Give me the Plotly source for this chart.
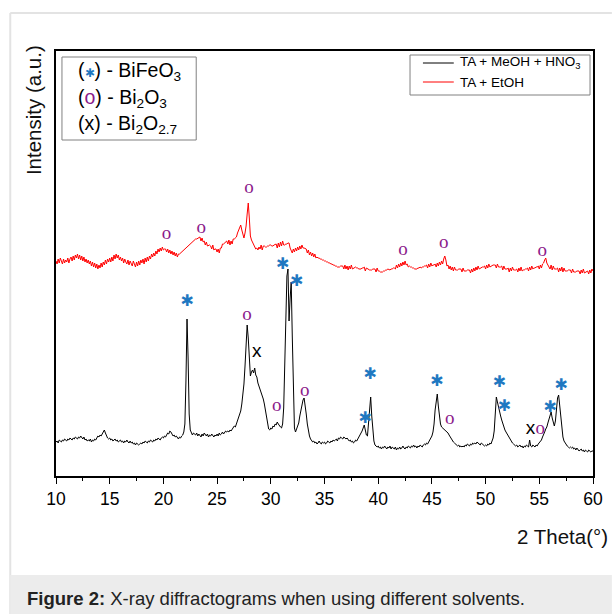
import numpy as np
import plotly.graph_objects as go

# ---------------- data ----------------
two_theta = np.round(10 + 0.1 * np.arange(501), 1)

# TA + MeOH + HNO3 (black), rows of 1 degree (10.0 .. 10.9, 11.0 .. )
ta_meoh_hno3_rows = [
    [34, 35, 33, 36, 35, 34, 36, 35, 37, 36],
    [35, 37, 36, 38, 37, 36, 38, 37, 39, 38],
    [37, 39, 38, 40, 38, 37, 39, 36, 37, 35],
    [36, 35, 37, 34, 36, 35, 37, 36, 38, 40],
    [39, 41, 40, 42, 44, 46, 43, 40, 38, 37],
    [38, 36, 37, 35, 36, 37, 35, 36, 34, 35],
    [36, 34, 35, 33, 35, 34, 36, 34, 33, 35],
    [33, 34, 32, 33, 31, 33, 32, 31, 32, 33],
    [32, 34, 33, 35, 34, 33, 35, 34, 36, 35],
    [34, 36, 35, 37, 36, 38, 37, 36, 38, 39],
    [38, 40, 39, 41, 43, 42, 45, 44, 41, 40],
    [41, 39, 40, 38, 37, 39, 38, 40, 41, 44],
    [52, 95, 157, 118, 62, 46, 43, 41, 43, 42],
    [41, 43, 40, 42, 41, 39, 42, 40, 43, 41],
    [40, 42, 39, 41, 40, 42, 40, 39, 41, 40],
    [42, 40, 43, 41, 42, 44, 42, 43, 45, 44],
    [45, 44, 46, 45, 47, 48, 50, 49, 52, 54],
    [57, 60, 65, 72, 80, 92, 110, 132, 151, 138],
    [112, 100, 104, 106, 103, 108, 101, 99, 93, 90],
    [88, 84, 80, 77, 72, 66, 58, 52, 47, 46],
    [48, 47, 50, 49, 52, 51, 54, 52, 50, 49],
    [48, 52, 68, 105, 160, 200, 207, 155, 178, 194],
    [140, 72, 48, 44, 47, 50, 53, 60, 66, 72],
    [76, 78, 72, 62, 52, 44, 40, 37, 35, 34],
    [35, 33, 34, 32, 33, 35, 33, 32, 34, 33],
    [34, 32, 33, 35, 34, 33, 35, 34, 36, 35],
    [36, 37, 35, 38, 37, 39, 38, 37, 39, 38],
    [37, 38, 36, 35, 36, 34, 35, 33, 34, 36],
    [35, 37, 38, 40, 42, 45, 48, 51, 46, 41],
    [40, 52, 68, 79, 60, 42, 35, 31, 30, 29],
    [30, 28, 29, 27, 29, 28, 30, 28, 27, 29],
    [28, 30, 27, 29, 28, 27, 29, 26, 28, 27],
    [29, 27, 28, 30, 28, 27, 29, 28, 30, 29],
    [28, 30, 29, 31, 29, 30, 28, 30, 29, 31],
    [30, 29, 31, 32, 31, 33, 32, 34, 36, 38],
    [40, 44, 52, 66, 78, 82, 70, 58, 52, 49],
    [48, 47, 47, 46, 45, 43, 41, 39, 37, 35],
    [34, 33, 32, 31, 30, 31, 29, 30, 29, 30],
    [29, 31, 30, 32, 31, 30, 32, 31, 33, 32],
    [33, 32, 34, 33, 32, 31, 33, 32, 31, 30],
    [31, 30, 32, 31, 33, 32, 35, 38, 45, 58],
    [79, 74, 68, 64, 60, 56, 52, 49, 46, 44],
    [42, 40, 38, 36, 35, 33, 32, 31, 30, 31],
    [29, 30, 31, 29, 30, 28, 30, 29, 31, 30],
    [29, 36, 30, 29, 31, 30, 29, 31, 30, 32],
    [33, 34, 36, 39, 41, 44, 47, 49, 53, 57],
    [60, 64, 58, 52, 50, 55, 68, 78, 81, 70],
    [55, 45, 39, 35, 33, 31, 30, 29, 28, 29],
    [28, 29, 27, 28, 26, 28, 27, 25, 26, 27],
    [25, 26, 24, 26, 25, 24, 26, 25, 24, 25],
    [25],
]
ta_meoh_hno3 = [v for row in ta_meoh_hno3_rows for v in row]

# TA + EtOH (red)
ta_etoh_rows = [
    [215, 212, 217, 213, 218, 214, 212, 217, 213, 216],
    [214, 218, 213, 217, 219, 215, 220, 216, 221, 218],
    [222, 217, 221, 216, 220, 215, 219, 214, 217, 213],
    [216, 212, 215, 210, 214, 209, 213, 208, 212, 207],
    [211, 208, 213, 209, 214, 211, 216, 212, 217, 214],
    [218, 214, 219, 215, 221, 217, 222, 218, 221, 216],
    [219, 215, 218, 213, 217, 214, 212, 216, 211, 215],
    [212, 210, 215, 211, 209, 214, 210, 215, 211, 216],
    [213, 217, 212, 218, 214, 219, 215, 220, 217, 222],
    [219, 223, 220, 225, 222, 227, 224, 228, 225, 229],
    [226, 227, 227, 224, 227, 223, 226, 222, 225, 221],
    [224, 220, 223, 219, 222, 222, 223, 224, 225, 226],
    [227, 228, 229, 230, 231, 232, 233, 234, 235, 236],
    [237, 237, 238, 238, 239, 235, 238, 234, 235, 231],
    [234, 230, 231, 231, 230, 227, 231, 226, 227, 227],
    [224, 227, 223, 228, 228, 232, 232, 233, 234, 235],
    [232, 236, 231, 235, 232, 237, 237, 238, 239, 243],
    [246, 249, 251, 246, 241, 238, 243, 250, 262, 273],
    [258, 240, 236, 234, 231, 229, 227, 228, 226, 229],
    [227, 231, 226, 230, 230, 229, 229, 230, 230, 231],
    [231, 230, 230, 231, 232, 232, 228, 233, 229, 234],
    [230, 235, 231, 231, 232, 232, 233, 233, 228, 225],
    [223, 227, 224, 228, 225, 229, 226, 230, 227, 231],
    [228, 228, 227, 227, 223, 226, 221, 224, 220, 223],
    [219, 222, 218, 219, 218, 218, 217, 217, 216, 216],
    [215, 215, 214, 214, 213, 213, 212, 212, 211, 211],
    [210, 210, 209, 209, 209, 210, 210, 210, 207, 211],
    [207, 210, 206, 210, 207, 211, 207, 208, 208, 209],
    [208, 208, 207, 207, 207, 208, 208, 209, 205, 208],
    [207, 207, 206, 206, 206, 207, 207, 207, 204, 208],
    [205, 205, 204, 204, 204, 205, 205, 206, 206, 207],
    [206, 206, 207, 207, 208, 208, 207, 211, 208, 212],
    [209, 213, 210, 214, 211, 215, 211, 212, 209, 210],
    [209, 209, 208, 208, 207, 207, 207, 208, 208, 209],
    [208, 209, 209, 210, 210, 211, 208, 212, 209, 213],
    [210, 211, 211, 212, 209, 213, 210, 214, 211, 215],
    [212, 217, 220, 216, 210, 211, 207, 210, 206, 209],
    [205, 209, 206, 206, 206, 207, 207, 207, 204, 208],
    [205, 205, 205, 206, 206, 206, 203, 207, 204, 208],
    [205, 209, 206, 210, 207, 208, 208, 209, 209, 210],
    [207, 211, 208, 212, 209, 210, 210, 211, 211, 211],
    [208, 212, 209, 209, 209, 210, 206, 210, 207, 207],
    [207, 208, 204, 208, 205, 209, 206, 206, 206, 207],
    [204, 208, 205, 209, 205, 206, 206, 207, 207, 208],
    [205, 209, 206, 210, 207, 208, 208, 209, 209, 210],
    [207, 211, 208, 212, 213, 216, 218, 213, 210, 209],
    [207, 211, 206, 210, 207, 207, 207, 208, 204, 208],
    [205, 209, 204, 208, 205, 205, 205, 206, 206, 206],
    [203, 207, 204, 204, 204, 205, 205, 205, 202, 206],
    [203, 207, 203, 204, 204, 205, 202, 206, 203, 207],
    [205],
]
ta_etoh = [v for row in ta_etoh_rows for v in row]

# phase markers (2theta, intensity)
bifeo3_x = [22.22, 31.11, 32.41, 38.80, 39.26, 45.46, 51.30, 51.76, 56.02, 57.04]
bifeo3_y = [174, 211, 194, 57, 101, 94, 93, 69, 68, 90]
bi2o3_x = [20.28, 23.52, 27.96, 42.31, 46.11, 55.28, 27.78, 30.56, 33.15, 46.67, 55.09]
bi2o3_y = [242, 248, 288, 226, 233, 225, 161, 70, 85, 57, 47]
bi2o27_x = [28.70, 54.17]
bi2o27_y = [124, 47]

x_ticks = [10, 15, 20, 25, 30, 35, 40, 45, 50, 55, 60]

# ---------------- layout helpers (pixel -> paper) ----------------
L, R, T, B = 56, 596, 51, 476
W, H = 615, 614


def px(x):
    return (x - L) / (R - L)


def py(y):
    return (B - y) / (B - T)


BLUE = "#1f78c1"
PURPLE = "#8b1a8b"
FONT = "Liberation Sans, Arial, sans-serif"

fig = go.Figure()
fig.add_trace(go.Scatter(x=two_theta, y=ta_meoh_hno3, mode="lines",
                         line=dict(color="black", width=1), name="TA + MeOH + HNO3"))
fig.add_trace(go.Scatter(x=two_theta, y=ta_etoh, mode="lines",
                         line=dict(color="#ff0000", width=1), name="TA + EtOH"))
fig.add_trace(go.Scatter(x=bifeo3_x, y=bifeo3_y, mode="text", text=["✱"] * len(bifeo3_x),
                         textfont=dict(color=BLUE, size=16, family="DejaVu Sans")))
fig.add_trace(go.Scatter(x=bi2o3_x, y=bi2o3_y, mode="text", text=["o"] * len(bi2o3_x),
                         textfont=dict(color=PURPLE, size=19, family="Liberation Serif")))
fig.add_trace(go.Scatter(x=bi2o27_x, y=bi2o27_y, mode="text", text=["x"] * len(bi2o27_x),
                         textfont=dict(color="black", size=19, family=FONT)))

shapes = [
    # outer page frame
    dict(type="line", xref="paper", yref="paper", x0=px(10), x1=px(615), y0=py(13), y1=py(13),
         line=dict(color="#e3e3e3", width=2), layer="below"),
    dict(type="line", xref="paper", yref="paper", x0=px(10), x1=px(10), y0=py(13), y1=py(614),
         line=dict(color="#e3e3e3", width=2), layer="below"),
    dict(type="rect", xref="paper", yref="paper", x0=px(10), x1=px(615), y0=py(575), y1=py(614),
         fillcolor="#ececec", line=dict(width=0), layer="below"),
    # phase legend box
    dict(type="rect", xref="paper", yref="paper", x0=px(62), x1=px(197), y0=py(140), y1=py(57),
         line=dict(color="#808080", width=1)),
    # series legend box
    dict(type="rect", xref="paper", yref="paper", x0=px(412), x1=px(593), y0=py(95), y1=py(55),
         line=dict(color="#808080", width=1)),
    dict(type="line", xref="paper", yref="paper", x0=px(425), x1=px(456), y0=py(63), y1=py(63),
         line=dict(color="black", width=1)),
    dict(type="line", xref="paper", yref="paper", x0=px(425), x1=px(456), y0=py(82), y1=py(82),
         line=dict(color="#ff0000", width=1)),
]

ann = [
    dict(text="Intensity (a.u.)", x=px(34), y=py(110), textangle=-90,
         font=dict(size=20.5, color="#111", family=FONT)),
    dict(text="2 Theta(°)", x=px(613), y=py(536), xanchor="right",
         font=dict(size=20.5, color="#111", family=FONT)),
    dict(text="<b>Figure 2:</b> X-ray diffractograms when using different solvents.",
         x=px(25), y=py(598), xanchor="left", font=dict(size=18.5, color="#222", family=FONT)),
    dict(text=f"(<span style='color:{BLUE};font-size:12px'>✱</span>) - BiFeO<sub>3</sub>",
         x=px(76), y=py(71), xanchor="left", font=dict(size=19.5, color="black", family=FONT)),
    dict(text=f"(<span style='color:{PURPLE}'>o</span>) - Bi<sub>2</sub>O<sub>3</sub>",
         x=px(76), y=py(98), xanchor="left", font=dict(size=19.5, color="black", family=FONT)),
    dict(text="(x) - Bi<sub>2</sub>O<sub>2.7</sub>",
         x=px(76), y=py(125), xanchor="left", font=dict(size=19.5, color="black", family=FONT)),
    dict(text="TA + MeOH + HNO<sub>3</sub>", x=px(460), y=py(63), xanchor="left",
         font=dict(size=13.5, color="black", family=FONT)),
    dict(text="TA + EtOH", x=px(460), y=py(82), xanchor="left",
         font=dict(size=13.5, color="black", family=FONT)),
]
for a in ann:
    a.update(xref="paper", yref="paper", showarrow=False)
    a.setdefault("xanchor", "center")
    a.setdefault("yanchor", "middle")

fig.update_layout(
    width=W, height=614, autosize=False,
    margin=dict(l=L, r=W - R, t=T, b=H - B, pad=0),
    paper_bgcolor="white", plot_bgcolor="white",
    showlegend=False,
    shapes=shapes, annotations=ann,
    font=dict(family=FONT, color="black"),
)
fig.update_xaxes(range=[10, 60], tickvals=x_ticks, ticks="outside", ticklen=6, tickwidth=1.2,
                 tickcolor="black", showline=True, linecolor="black", linewidth=1.5, mirror=True,
                 showgrid=False, zeroline=False, tickfont=dict(size=17.5, color="black", family=FONT),
                 minor=dict(dtick=2.5, tick0=12.5, ticks="outside", ticklen=3.5, tickwidth=1.2,
                            tickcolor="black", showgrid=False))
fig.update_yaxes(range=[0, 425], showticklabels=False, ticks="", showline=True, linecolor="black",
                 linewidth=1.5, mirror=True, showgrid=False, zeroline=False)

fig.write_html("out.html")
